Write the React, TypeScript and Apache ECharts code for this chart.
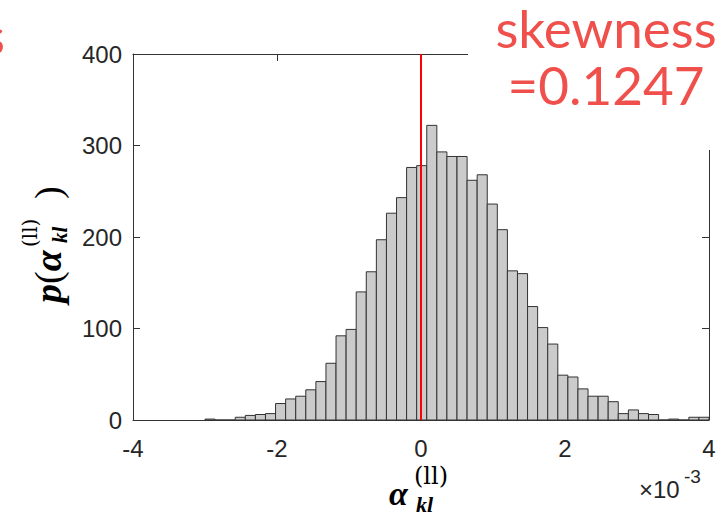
import React, { useEffect, useRef } from "react";
import * as echarts from "echarts";

// Histogram of alpha_kl^(ll), x in units of 1e-3
const binStart = -3.0;
const binWidth = 0.14;
const counts = [
  1, 0, 0, 3, 5, 6, 7, 18, 23, 26, 33, 42, 62, 92, 99, 140, 162, 197, 226, 243, 276,
  278, 322, 293, 288, 288, 262, 268, 236, 208, 163, 160, 124, 101, 83,
  49, 47, 34, 26, 26, 20, 7, 11, 7, 6, 0, 1, 0, 3, 3,
];
const xTickMin = -4;
const xTickMax = 4;
const xTickStep = 2;
const yTickMin = 0;
const yTickMax = 400;
const yTickStep = 100;
const meanLineX = 0;
const skewLabel = "skewness";
const skewValue = "=0.1247";

const AXIS = "#333333";
const TXT = "#262626";
const RED = "#f0504c";

export default function App() {
  const ref = useRef<HTMLDivElement>(null);
  useEffect(() => {
    if (!ref.current) return;
    const chart = echarts.init(ref.current, undefined, { renderer: "svg" });
    const data = counts.map((c, i) => [binStart + i * binWidth, binStart + (i + 1) * binWidth, c]);
    const axisCommon = {
      type: "value" as const,
      axisLine: { show: true, onZero: false, lineStyle: { color: AXIS, width: 1 } },
      axisTick: { show: true, inside: true, length: 7, lineStyle: { color: AXIS } },
      splitLine: { show: false },
    };
    const option: any = {
      animation: false,
      backgroundColor: "#ffffff",
      grid: { left: 133, right: 16, top: 54, bottom: 95, containLabel: false },
      xAxis: [
        {
          ...axisCommon,
          position: "bottom",
          min: xTickMin,
          max: xTickMax,
          interval: xTickStep,
          axisLabel: { fontSize: 24, color: TXT, fontFamily: "Liberation Sans", margin: 16 },
        },
        {
          ...axisCommon,
          position: "top",
          min: xTickMin,
          max: xTickMax,
          interval: xTickStep,
          axisLabel: { show: false },
        },
      ],
      yAxis: [
        {
          ...axisCommon,
          position: "left",
          min: yTickMin,
          max: yTickMax,
          interval: yTickStep,
          axisLabel: { fontSize: 24, color: TXT, fontFamily: "Liberation Sans", margin: 11 },
        },
        {
          ...axisCommon,
          position: "right",
          min: yTickMin,
          max: yTickMax,
          interval: yTickStep,
          axisLabel: { show: false },
        },
      ],
      series: [
        {
          type: "custom",
          xAxisIndex: 0,
          yAxisIndex: 0,
          encode: { x: [0, 1], y: 2 },
          data,
          renderItem: (params: any, api: any) => {
            const x0 = api.value(0);
            const x1 = api.value(1);
            const v = api.value(2);
            const p0 = api.coord([x0, 0]);
            const p1 = api.coord([x1, v]);
            return {
              type: "rect",
              shape: { x: p0[0], y: p1[1], width: p1[0] - p0[0], height: p0[1] - p1[1] },
              style: { fill: "#cbcbcb", stroke: "#333333", lineWidth: 1 },
            };
          },
          markLine: {
            silent: true,
            symbol: "none",
            label: { show: false },
            lineStyle: { color: "#ff0000", width: 2, type: "solid" },
            data: [{ xAxis: meanLineX }],
            z: 10,
          },
        },
      ],
      graphic: [
        { type: "rect", shape: { x: 468, y: 0, width: 257, height: 150 }, style: { fill: "#ffffff" }, z: 100 },
        {
          type: "text", x: 606, y: 56, z: 101,
          style: {
            text: skewLabel + "\n" + skewValue,
            fill: RED, fontSize: 53, lineHeight: 57, fontFamily: "Lato",
            align: "center", verticalAlign: "middle",
          },
        },
        {
          type: "text", x: 5, y: 34, z: 101,
          style: { text: "s", fill: RED, fontSize: 53, lineHeight: 40, fontFamily: "Lato", align: "right", verticalAlign: "middle" },
        },
        {
          type: "text", x: 639, y: 489, z: 101,
          style: { text: "×10", fill: TXT, fontSize: 24, fontFamily: "Liberation Sans", align: "left", verticalAlign: "middle" },
        },
        {
          type: "text", x: 684, y: 476, z: 101,
          style: { text: "-3", fill: TXT, fontSize: 19, fontFamily: "Liberation Sans", align: "left", verticalAlign: "middle" },
        },
        // x-axis label alpha_kl^(ll)
        {
          type: "text", x: 389, y: 493, z: 101,
          style: { text: "α", fill: "#000", fontSize: 34, fontWeight: "bold", fontStyle: "italic", fontFamily: "Liberation Serif", align: "left", verticalAlign: "middle" },
        },
        {
          type: "text", x: 414, y: 476, z: 101,
          style: { text: "(ll)", fill: "#000", fontSize: 24, fontFamily: "DejaVu Serif", align: "left", verticalAlign: "middle" },
        },
        {
          type: "text", x: 416, y: 504, z: 101,
          style: { text: "kl", fill: "#000", fontSize: 22, fontWeight: "bold", fontStyle: "italic", fontFamily: "Liberation Serif", align: "left", verticalAlign: "middle" },
        },
        // y-axis label p(alpha_kl^(ll))
        {
          type: "group", x: 48, y: 303, rotation: Math.PI / 2, z: 101,
          children: [
            {
              type: "text", x: 0, y: 0,
              style: {
                text: "{i|p}{r|(}{i|α}",
                fill: "#000",
                align: "left",
                verticalAlign: "middle",
                rich: {
                  i: { fontSize: 38, fontWeight: "bold", fontStyle: "italic", fontFamily: "Liberation Serif", fill: "#000" },
                  r: { fontSize: 38, fontFamily: "Liberation Serif", fill: "#000" },
                },
              },
            },
            {
              type: "text", x: 56, y: -18,
              style: { text: "(ll)", fill: "#000", fontSize: 20, fontFamily: "DejaVu Serif", align: "left", verticalAlign: "middle" },
            },
            {
              type: "text", x: 60, y: 12,
              style: { text: "kl", fill: "#000", fontSize: 21, fontWeight: "bold", fontStyle: "italic", fontFamily: "Liberation Serif", align: "left", verticalAlign: "middle" },
            },
            {
              type: "text", x: 104, y: 0,
              style: { text: ")", fill: "#000", fontSize: 38, fontFamily: "Liberation Serif", align: "left", verticalAlign: "middle" },
            },
          ],
        },
      ],
    };
    chart.setOption(option);
    return () => chart.dispose();
  }, []);
  return <div ref={ref} style={{ position: "fixed", left: 0, top: 0, width: 725, height: 515 }} />;
}
